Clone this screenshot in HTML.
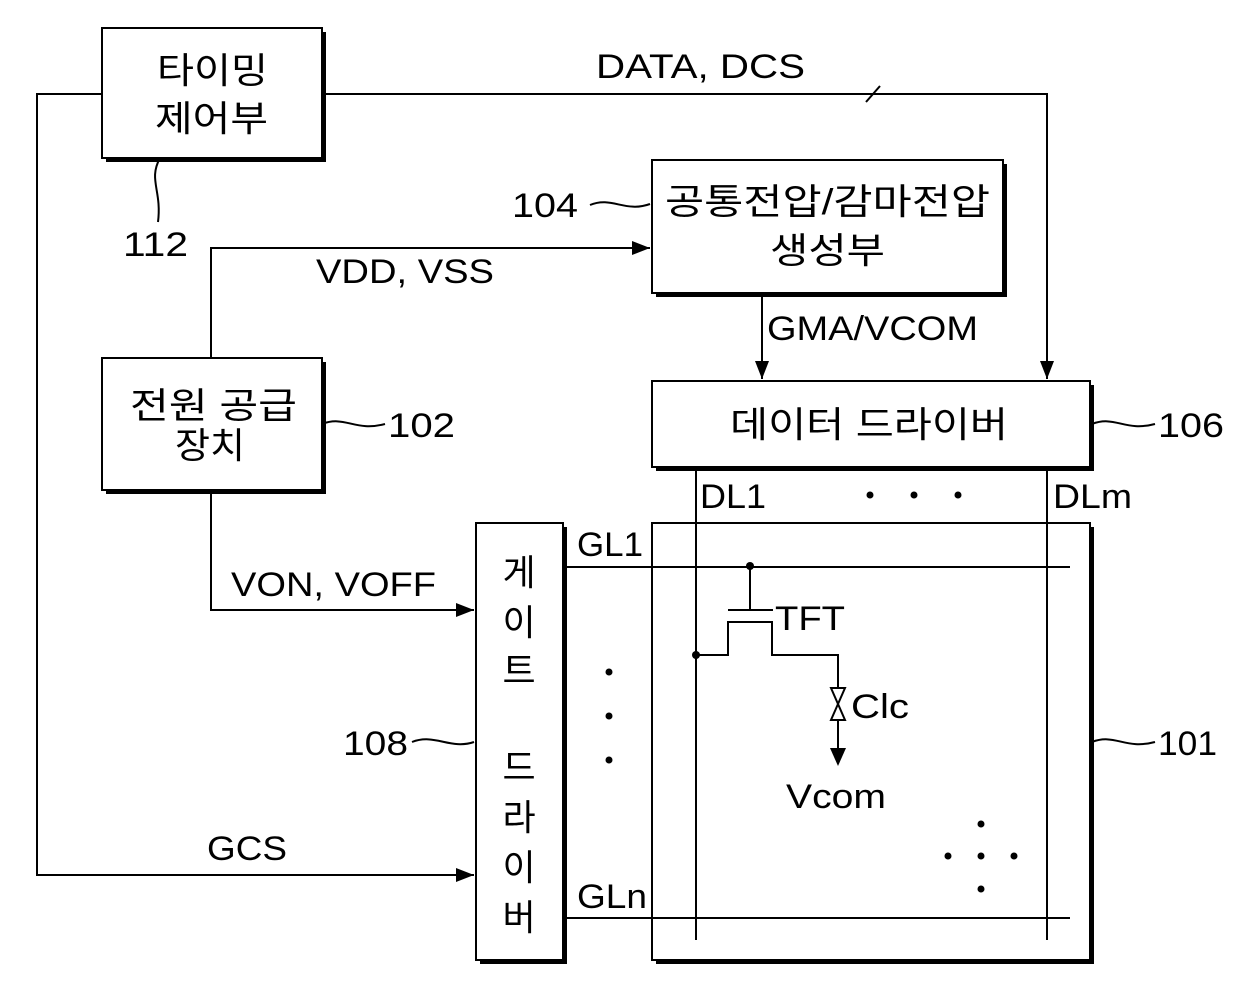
<!DOCTYPE html>
<html><head><meta charset="utf-8"><style>
html,body{margin:0;padding:0;background:#fff;}
text{font-family:"Liberation Sans","Noto Sans CJK KR",sans-serif;fill:#000;}
</style></head><body>
<svg width="1240" height="998" viewBox="0 0 1240 998" xmlns="http://www.w3.org/2000/svg">
<defs>
<marker id="a" markerWidth="20" markerHeight="14" refX="18" refY="7" orient="auto" markerUnits="userSpaceOnUse">
<path d="M0,0 L18,7 L0,14 z" fill="#000"/></marker>
</defs>
<g fill="#fff" stroke="#000" stroke-width="2">
<g fill="#000" stroke="none">
<rect x="106" y="32" width="220" height="130"/>
<rect x="656" y="164" width="351" height="133"/>
<rect x="106" y="362" width="220" height="132"/>
<rect x="656" y="385" width="438" height="86"/>
<rect x="480" y="527" width="87" height="437"/>
<rect x="656" y="527" width="438" height="437"/>
</g>
<rect x="102" y="28" width="220" height="130"/>
<rect x="652" y="160" width="351" height="133"/>
<rect x="102" y="358" width="220" height="132"/>
<rect x="652" y="381" width="438" height="86"/>
<rect x="476" y="523" width="87" height="437"/>
<rect x="652" y="523" width="438" height="437"/>
</g>
<g fill="none" stroke="#000" stroke-width="2">
<polyline points="102,94 37,94 37,875 474,875" marker-end="url(#a)"/>
<polyline points="322,94 1047,94 1047,379" marker-end="url(#a)"/>
<line x1="866" y1="102" x2="880" y2="86"/>
<polyline points="211,358 211,248 650,248" marker-end="url(#a)"/>
<line x1="762" y1="293" x2="762" y2="379" marker-end="url(#a)"/>
<polyline points="211,490 211,610 474,610" marker-end="url(#a)"/>
<line x1="696" y1="467" x2="696" y2="940"/>
<line x1="1047" y1="467" x2="1047" y2="940"/>
<line x1="565" y1="567" x2="1070" y2="567"/>
<line x1="565" y1="918" x2="1070" y2="918"/>
<line x1="750" y1="565" x2="750" y2="610"/>
<line x1="728" y1="610" x2="773" y2="610"/>
<polyline points="696,655 728,655 728,622 772,622 772,655 838,655 838,688"/>
<path d="M831,688 L845,688 L831,720 L845,720 z"/>
<line x1="838" y1="720" x2="838" y2="750"/>
<path d="M160,158 C148,180 162,190 158,222"/>
<path d="M322,424 C345,415 355,432 385,424"/>
<path d="M1092,424 C1115,415 1125,432 1155,424"/>
<path d="M1092,742 C1115,733 1125,750 1155,742"/>
<path d="M412,742 C435,733 450,750 474,742"/>
<path d="M590,205 C612,196 625,213 650,204"/>
</g>
<path d="M830,748 L846,748 L838,766 z" fill="#000"/>
<g fill="#000">
<circle cx="750" cy="566" r="4"/><circle cx="696" cy="655" r="4"/>
<circle cx="870" cy="495" r="3.5"/><circle cx="914" cy="495" r="3.5"/><circle cx="958" cy="495" r="3.5"/>
<circle cx="609" cy="672" r="3.5"/><circle cx="609" cy="716" r="3.5"/><circle cx="609" cy="760" r="3.5"/>
<circle cx="981" cy="824" r="3.5"/><circle cx="948" cy="856" r="3.5"/><circle cx="981" cy="856" r="3.5"/><circle cx="1014" cy="856" r="3.5"/><circle cx="981" cy="889" r="3.5"/>
</g>
<g font-size="36" lengthAdjust="spacingAndGlyphs">
<text x="157" y="83" textLength="111" lengthAdjust="spacingAndGlyphs">타이밍</text>
<text x="155" y="131" textLength="113" lengthAdjust="spacingAndGlyphs">제어부</text>
<text x="665" y="214" textLength="325" lengthAdjust="spacingAndGlyphs">공통전압/감마전압</text>
<text x="770" y="263" textLength="115" lengthAdjust="spacingAndGlyphs">생성부</text>
<text x="130" y="418" textLength="167" lengthAdjust="spacingAndGlyphs">전원 공급</text>
<text x="175" y="458" textLength="70" lengthAdjust="spacingAndGlyphs">장치</text>
<text x="730" y="437" textLength="278" lengthAdjust="spacingAndGlyphs">데이터 드라이버</text>
</g>
<g font-size="36" text-anchor="middle">
<text x="519" y="585">게</text>
<text x="519" y="635">이</text>
<text x="519" y="683">트</text>
<text x="519" y="780">드</text>
<text x="519" y="830">라</text>
<text x="519" y="880">이</text>
<text x="519" y="930">버</text>
</g>
<g font-size="34">
<text x="596" y="78" textLength="209" lengthAdjust="spacingAndGlyphs">DATA, DCS</text>
<text x="123" y="256" textLength="65" lengthAdjust="spacingAndGlyphs">112</text>
<text x="512" y="217" textLength="66" lengthAdjust="spacingAndGlyphs">104</text>
<text x="316" y="283" textLength="178" lengthAdjust="spacingAndGlyphs">VDD, VSS</text>
<text x="767" y="340" textLength="211" lengthAdjust="spacingAndGlyphs">GMA/VCOM</text>
<text x="388" y="437" textLength="67" lengthAdjust="spacingAndGlyphs">102</text>
<text x="1158" y="437" textLength="66" lengthAdjust="spacingAndGlyphs">106</text>
<text x="1158" y="755" textLength="59" lengthAdjust="spacingAndGlyphs">101</text>
<text x="343" y="755" textLength="65" lengthAdjust="spacingAndGlyphs">108</text>
<text x="700" y="508" textLength="66" lengthAdjust="spacingAndGlyphs">DL1</text>
<text x="1053" y="508" textLength="79" lengthAdjust="spacingAndGlyphs">DLm</text>
<text x="577" y="556" textLength="66" lengthAdjust="spacingAndGlyphs">GL1</text>
<text x="577" y="908" textLength="70" lengthAdjust="spacingAndGlyphs">GLn</text>
<text x="231" y="596" textLength="205" lengthAdjust="spacingAndGlyphs">VON, VOFF</text>
<text x="207" y="860" textLength="80" lengthAdjust="spacingAndGlyphs">GCS</text>
<text x="775" y="630" textLength="70" lengthAdjust="spacingAndGlyphs">TFT</text>
<text x="851" y="718" textLength="58" lengthAdjust="spacingAndGlyphs">Clc</text>
<text x="786" y="808" textLength="100" lengthAdjust="spacingAndGlyphs">Vcom</text>
</g>
</svg>
</body></html>
